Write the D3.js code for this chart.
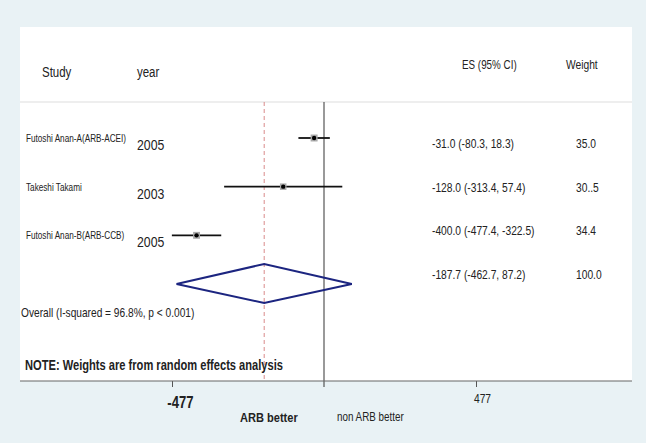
<!DOCTYPE html>
<html>
<head>
<meta charset="utf-8">
<script src="https://cdn.jsdelivr.net/npm/d3@7"></script>
<style>
  body { margin: 0; background: #e9f2f5; }
  svg { display: block; }
  text { font-family: "Liberation Sans", Arial, sans-serif; fill: #222; }
</style>
</head>
<body>
<div id="chart"></div>
<script>
var studies = ["Futoshi Anan-A(ARB-ACEI)", "Takeshi Takami", "Futoshi Anan-B(ARB-CCB)"];
var years = ["2005", "2003", "2005"];
var es = [-31.0, -128.0, -400.0];
var lo = [-80.3, -313.4, -477.4];
var hi = [18.3, 57.4, -322.5];
var esText = ["-31.0 (-80.3, 18.3)", "-128.0 (-313.4, 57.4)", "-400.0 (-477.4, -322.5)", "-187.7 (-462.7, 87.2)"];
var weightText = ["35.0", "30..5", "34.4", "100.0"];
var weights = [35.0, 30.5, 34.4];
var overall = { es: -187.7, lo: -462.7, hi: 87.2 };
var tickValues = [-477, 477];

var w = 646, h = 443;
var panel = { left: 20, right: 632, top: 27, bottom: 381 };
var narrow = 0.82; // the original used a condensed face

var svg = d3.select("#chart")
    .append("svg")
    .attr("width", w)
    .attr("height", h);

svg.append("rect")
    .attr("x", panel.left)
    .attr("y", panel.top)
    .attr("width", panel.right - panel.left)
    .attr("height", panel.bottom - panel.top)
    .attr("fill", "#fff");

var x = d3.scaleLinear().domain([-477, 477]).range([172, 476]);
var y = d3.scalePoint().domain(d3.range(4)).range([138, 284]);
var yText = d3.scalePoint().domain(d3.range(4)).range([144, 275]);

// header
svg.append("line")
    .attr("x1", panel.left).attr("x2", panel.right)
    .attr("y1", 102).attr("y2", 102)
    .attr("stroke", "#ddd");
svg.append("text").attr("x", 42).attr("y", 77).attr("font-size", 14).text("Study");
svg.append("text").attr("x", 137).attr("y", 77).attr("font-size", 14).text("year");
svg.append("text").attr("x", 462).attr("y", 69).attr("font-size", 12).text("ES (95% CI)");
svg.append("text").attr("x", 566).attr("y", 69).attr("font-size", 12.5).text("Weight");

// reference lines
svg.append("line")
    .attr("x1", x(0)).attr("x2", x(0))
    .attr("y1", 102).attr("y2", 387)
    .attr("stroke", "#555").attr("stroke-width", 1.2);
svg.append("line")
    .attr("x1", x(overall.es)).attr("x2", x(overall.es))
    .attr("y1", 102).attr("y2", panel.bottom)
    .attr("stroke", "#d98a8a").attr("stroke-width", 1)
    .attr("stroke-dasharray", "4,3");

// studies
var rows = svg.append("g")
    .selectAll("g")
    .data(d3.range(studies.length))
    .enter()
    .append("g");

rows.append("text")
    .attr("x", 26)
    .attr("y", function (i) { return y(i) + 4; })
    .attr("font-size", 10)
    .text(function (i) { return studies[i]; });

rows.append("text")
    .attr("x", 137)
    .attr("y", function (i) { return y(i) + 12; })
    .attr("font-size", 15)
    .text(function (i) { return years[i]; });

rows.append("line")
    .attr("x1", function (i) { return x(lo[i]); })
    .attr("x2", function (i) { return x(hi[i]); })
    .attr("y1", function (i) { return y(i); })
    .attr("y2", function (i) { return y(i); })
    .attr("stroke", "#111").attr("stroke-width", 1.8);

rows.append("rect")
    .attr("x", function (i) { return x(es[i]) - Math.sqrt(weights[i]) / 1.7; })
    .attr("y", function (i) { return y(i) - Math.sqrt(weights[i]) / 1.7; })
    .attr("width", function (i) { return Math.sqrt(weights[i]) / 0.85; })
    .attr("height", function (i) { return Math.sqrt(weights[i]) / 0.85; })
    .attr("fill", "#aaa");

rows.append("circle")
    .attr("cx", function (i) { return x(es[i]); })
    .attr("cy", function (i) { return y(i); })
    .attr("r", 2.2)
    .attr("fill", "#000");

// right column
svg.append("g")
    .selectAll("text")
    .data(esText)
    .enter()
    .append("text")
    .attr("x", 432)
    .attr("y", function (d, i) { return yText(i) + 4; })
    .attr("font-size", 12.5)
    .text(function (d) { return d; });

svg.append("g")
    .selectAll("text")
    .data(weightText)
    .enter()
    .append("text")
    .attr("x", 576)
    .attr("y", function (d, i) { return yText(i) + 4; })
    .attr("font-size", 12.5)
    .text(function (d) { return d; });

// overall diamond
var oy = y(3);
svg.append("path")
    .attr("d", "M" + x(overall.lo) + "," + oy +
        "L" + x(overall.es) + "," + (oy - 20) +
        "L" + x(overall.hi) + "," + oy +
        "L" + x(overall.es) + "," + (oy + 19) + "Z")
    .attr("fill", "none")
    .attr("stroke", "#1c2580")
    .attr("stroke-width", 2);

svg.append("text")
    .attr("x", 21).attr("y", 317)
    .attr("font-size", 12.4)
    .text("Overall  (I-squared = 96.8%, p < 0.001)");

svg.append("text")
    .attr("x", 25).attr("y", 370)
    .attr("font-size", 15)
    .attr("font-weight", "bold")
    .attr("class", "fixed")
    .attr("textLength", 258)
    .attr("lengthAdjust", "spacingAndGlyphs")
    .text("NOTE: Weights are from random effects analysis");

// axis
var axis = svg.append("g")
    .attr("transform", "translate(0," + panel.bottom + ")")
    .call(d3.axisBottom(x).tickValues(tickValues).tickSize(6).tickFormat(function (d) { return String(d); }));
axis.select(".domain").remove();
axis.append("line")
    .attr("x1", panel.left).attr("x2", panel.right)
    .attr("stroke", "#666").attr("stroke-width", 1.2);
axis.selectAll(".tick line").attr("stroke", "#555");
axis.selectAll(".tick text")
    .attr("fill", "#222")
    .style("font-family", "\"Liberation Sans\", Arial, sans-serif")
    .attr("font-size", function (d) { return d < 0 ? 16 : 12.5; })
    .attr("font-weight", function (d) { return d < 0 ? "bold" : "normal"; })
    .attr("x", function (d) { return d < 0 ? 8 : 6; })
    .attr("dy", null)
    .attr("y", function (d) { return d < 0 ? 27 : 22; });

svg.append("text")
    .attr("x", 240).attr("y", 422)
    .attr("font-size", 13.5)
    .attr("font-weight", "bold")
    .text("ARB better");
svg.append("text")
    .attr("x", 337).attr("y", 421)
    .attr("font-size", 12)
    .text("non ARB better");

// squeeze every text horizontally, like the condensed face of the original
svg.selectAll("text:not(.fixed)").each(function () {
    var t = d3.select(this);
    var tx = +t.attr("x") || 0;
    t.attr("x", 0)
        .attr("transform", "translate(" + tx + ",0) scale(" + narrow + ",1)");
});
</script>
</body>
</html>
